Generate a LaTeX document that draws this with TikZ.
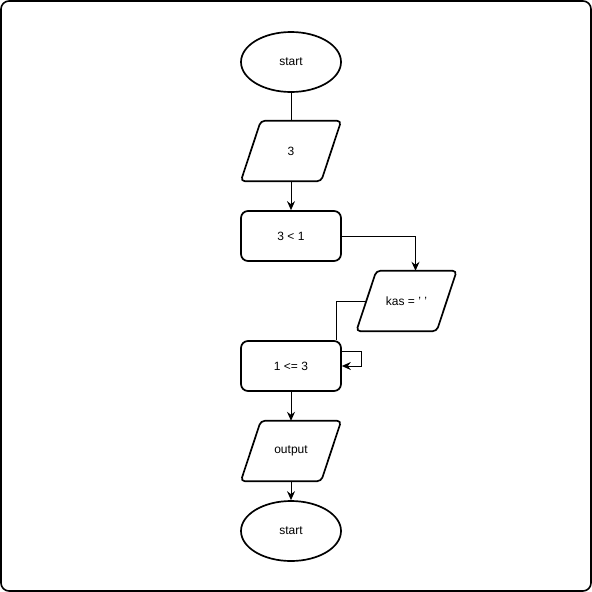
\documentclass[tikz,border=0pt]{standalone}
\usepackage{fontspec}
\setmainfont{Liberation Sans}
\usetikzlibrary{shapes.geometric,arrows.meta}
% outline of a slanted input/output box around node #1
\newcommand{\ioshape}[1]{%
  \draw[ioline] (#1.south west) -- ([xshift=20pt]#1.north west) -- (#1.north east)
    -- ([xshift=-20pt]#1.south east) -- cycle;}
\begin{document}
\begin{tikzpicture}[x=1pt,y=-1pt,
  every node/.style={font=\fontsize{12}{14}\selectfont},
  term/.style={ellipse,draw,line width=1.7pt,minimum width=100pt,minimum height=60pt,inner sep=0pt},
  proc/.style={rectangle,draw,line width=1.7pt,rounded corners=7pt,minimum width=100pt,minimum height=50pt,inner sep=0pt},
  io/.style={rectangle,minimum width=100pt,minimum height=60pt,inner sep=0pt},
  ioline/.style={line width=1.7pt,rounded corners=4pt,line join=round},
  link/.style={line width=1pt},
  arr/.style={link,-{Stealth[length=9pt,width=8pt,inset=3pt]}}]
\useasboundingbox (0,0) rectangle (592,592);
% outer frame
\draw[line width=1.6pt,rounded corners=8pt] (1,1) rectangle (591,591);

\node[term] (s1) at (291,62) {start};
\node[io] (in) at (291,151) {3};
\node[proc] (c1) at (291,236) {3 < 1};
\node[io] (kas) at (406.5,301) {kas = ' '};
\node[proc] (c2) at (291,366) {1 <= 3};
\node[io] (out) at (291,451) {output};
\node[term] (s2) at (291,531) {start};
\ioshape{in}
\ioshape{kas}
\ioshape{out}

\draw[link] (s1) -- (in);
\draw[arr] (in) -- (c1);
\draw[arr] (c1.east) -| ([xshift=9pt]kas.north);
\draw[link] ([xshift=10pt]kas.west) -| ([xshift=-5pt]c2.north east);
\draw[arr] ([yshift=15pt]c2.east) -- ++(20pt,0) |- (c2.east);
\draw[arr] (c2) -- (out);
\draw[arr] (out) -- (s2);
\end{tikzpicture}
\end{document}
